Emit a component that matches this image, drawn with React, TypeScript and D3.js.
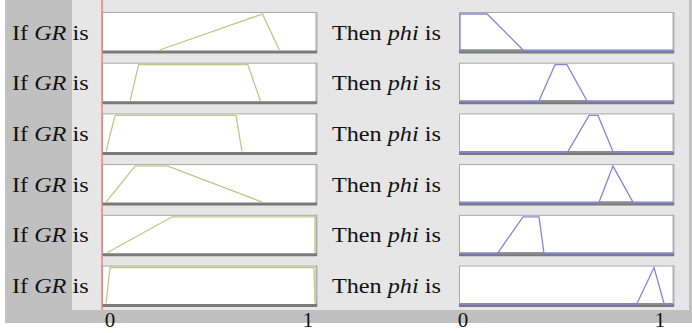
import React from "react";
import * as d3 from "d3";

// ---- data ----
const grMFs: number[][] = [
  [0.26, 0.75, 0.75, 0.83],
  [0.12, 0.16, 0.68, 0.74],
  [0.005, 0.048, 0.624, 0.652],
  [0.005, 0.143, 0.3, 0.748],
  [0.01, 0.32, 1.0, 1.0],
  [0.005, 0.024, 0.995, 1.0],
];
const phiMFs: number[][] = [
  [0.0, 0.0, 0.127, 0.296],
  [0.371, 0.446, 0.502, 0.596],
  [0.507, 0.606, 0.648, 0.718],
  [0.653, 0.718, 0.718, 0.812],
  [0.178, 0.296, 0.371, 0.394],
  [0.831, 0.911, 0.911, 0.958],
];
const inputName = "GR";
const outputName = "phi";
const tickValues = [0, 1];

const W = 692;
const H = 333;

export default function App() {
  const leftBox = { x0: 102, x1: 317 };
  const rightBox = { x0: 459, x1: 674 };
  const boxH = 41;
  const rowTop = (i: number) => 12 + i * 50.7;

  const xGR = d3.scaleLinear().domain([0, 1]).range([105, 315]);
  const xPhi = d3.scaleLinear().domain([0, 1]).range([460, 673]);
  const xGRLabel = d3.scaleLinear().domain([0, 1]).range([110, 308]);
  const xPhiLabel = d3.scaleLinear().domain([0, 1]).range([463, 660]);

  const font = "'Liberation Serif', 'Times New Roman', Times, serif";
  const yellow = "#c4c487";
  const blue = "#8585d6";

  const mfPath = (mf: number[], x: d3.ScaleLinear<number, number>, y: d3.ScaleLinear<number, number>) => {
    const pts: [number, number][] = [
      [mf[0], 0],
      [mf[1], 1],
      [mf[2], 1],
      [mf[3], 0],
    ];
    const line = d3
      .line<[number, number]>()
      .x((d) => x(d[0]))
      .y((d) => y(d[1]));
    return line(pts) || "";
  };

  const box = (x0: number, x1: number, top: number, key: string) => (
    <g key={key}>
      <rect x={x0 + 0.5} y={top + 0.5} width={x1 - x0 - 1} height={boxH - 1} fill="#ffffff" stroke="#a8a8a8" strokeWidth={1} />
      <line x1={x1 - 0.5} x2={x1 - 0.5} y1={top} y2={top + boxH} stroke="#b0b0b0" strokeWidth={2} />
      <line x1={x0} x2={x1} y1={top + boxH - 1} y2={top + boxH - 1} stroke="#7a7a7a" strokeWidth={3} />
    </g>
  );

  return (
    <svg width={W} height={H} style={{ position: "absolute", left: 0, top: 0 }}>
      <defs>
        <filter id="soft" x="-5%" y="-5%" width="110%" height="110%">
          <feGaussianBlur stdDeviation="0.4" />
        </filter>
      </defs>
      <rect x={0} y={0} width={W} height={H} fill="#ffffff" />
      {/* backgrounds */}
      <rect x={5} y={0} width={W - 5} height={323} fill="#c0c0c0" />
      <rect x={72} y={0} width={617} height={310} fill="#e6e6e6" />

      {grMFs.map((mf, i) => {
        const top = rowTop(i);
        const y = d3.scaleLinear().domain([0, 1]).range([top + boxH - 3, top + 2]);
        return (
          <g key={"L" + i}>
            <g filter="url(#soft)">{box(leftBox.x0, leftBox.x1, top, "lb" + i)}</g>
            <path d={mfPath(mf, xGR, y)} fill="none" stroke={yellow} strokeWidth={1.3} />
            <text
              transform={`translate(12, ${top + boxH / 2 + 7}) scale(1.1,1)`}
              fontFamily={font}
              fontSize={22}
              fill="#111"
            >
              If <tspan fontStyle="italic">{inputName}</tspan> is
            </text>
          </g>
        );
      })}

      {phiMFs.map((mf, i) => {
        const top = rowTop(i);
        const y = d3.scaleLinear().domain([0, 1]).range([top + boxH - 3, top + 2]);
        const y0 = y(0);
        return (
          <g key={"R" + i}>
            <g filter="url(#soft)">{box(rightBox.x0, rightBox.x1, top, "rb" + i)}</g>
            <line x1={xPhi(0)} x2={xPhi(1)} y1={y0 + 0.5} y2={y0 + 0.5} stroke={blue} strokeWidth={2} />
            <line x1={xPhi(mf[0])} x2={xPhi(mf[3])} y1={y0 + 0.5} y2={y0 + 0.5} stroke="#8c8c8c" strokeWidth={2} />
            <path d={mfPath(mf, xPhi, y)} fill="none" stroke={blue} strokeWidth={1.3} />
            <text
              transform={`translate(332, ${top + boxH / 2 + 7}) scale(1.1,1)`}
              fontFamily={font}
              fontSize={22}
              fill="#111"
            >
              Then <tspan fontStyle="italic">{outputName}</tspan> is
            </text>
          </g>
        );
      })}

      {/* input value indicator */}
      <line x1={102} x2={102} y1={0} y2={310} stroke="#f48080" strokeWidth={1.5} />

      {tickValues.map((v) => (
        <text key={"tl" + v} x={xGRLabel(v)} y={327} textAnchor="middle" fontFamily={font} fontSize={21} fill="#111">
          {v}
        </text>
      ))}
      {tickValues.map((v) => (
        <text key={"tr" + v} x={xPhiLabel(v)} y={327} textAnchor="middle" fontFamily={font} fontSize={21} fill="#111">
          {v}
        </text>
      ))}
    </svg>
  );
}
